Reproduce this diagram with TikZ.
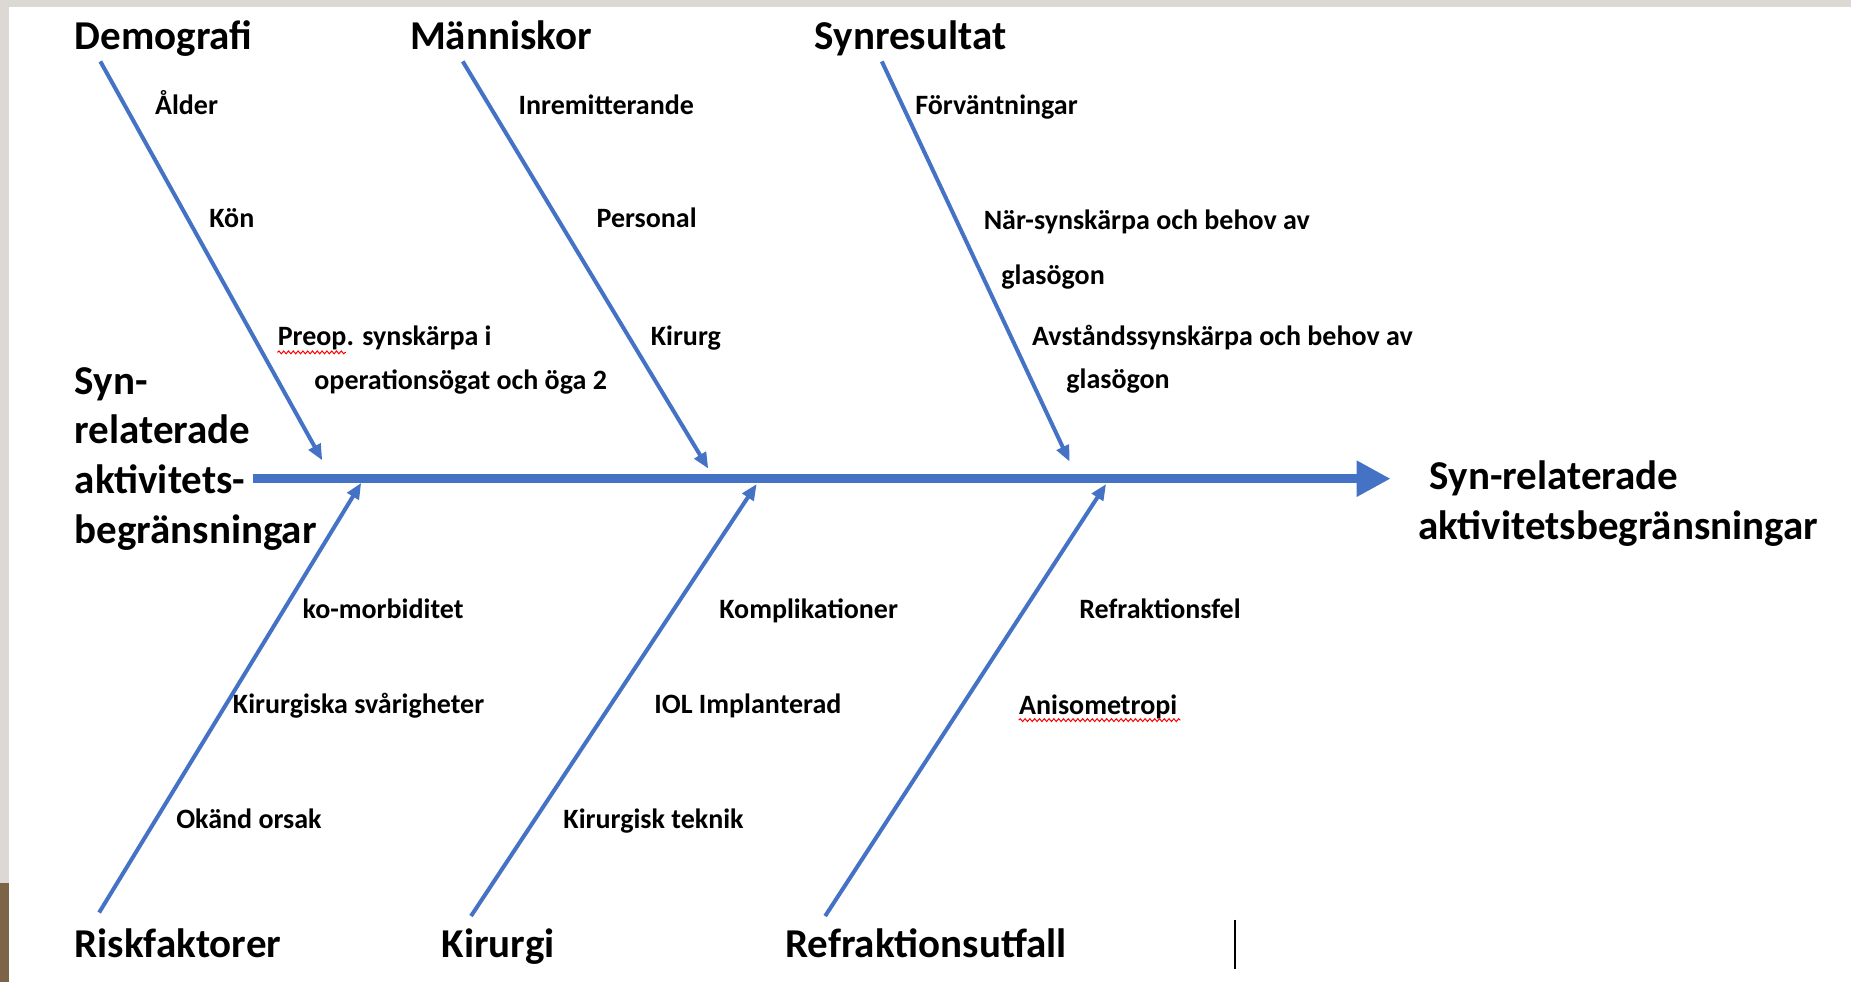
\documentclass[tikz,border=0pt]{standalone}
\usepackage{fontspec}
\setmainfont{Carlito}
\usetikzlibrary{arrows.meta,decorations.pathmorphing}
\definecolor{bone}{HTML}{4472C4}
\definecolor{slidegray}{HTML}{DCD8D3}
\definecolor{wood}{HTML}{7E6446}
\begin{document}
\begin{tikzpicture}[x=0.59024pt,y=-0.59024pt,
  title/.style={font=\fontsize{20.5}{24}\selectfont\bfseries, inner sep=0pt, anchor=base west},
  lab/.style={font=\fontsize{14}{17}\selectfont\bfseries, inner sep=0pt, anchor=base west},
  bonestyle/.style={draw=bone, line width=2pt, -{Triangle[length=8pt,width=6.5pt]}},
  spinestyle/.style={draw=bone, line width=4.6pt, -{Triangle[length=17pt,width=17pt]}},
  squiggle/.style={draw=red, line width=0.5pt, decorate, decoration={snake, amplitude=0.7pt, segment length=2.4pt}}]
% background
\fill[slidegray] (0,0) rectangle (1568,832);
\fill[white] (8,6) rectangle (1568,832);
\fill[wood] (0,748) rectangle (8,832);
\useasboundingbox (0,0) rectangle (1568,832);

% titles
\node[title] (demo) at (63,42) {Demografi};
\node[title] (mann) at (347,42) {Människor};
\node[title] (synr) at (690,42) {Synresultat};
\node[title] (risk) at (63,811) {Riskfaktorer};
\node[title] (kir) at (374,811) {Kirurgi};
\node[title] (refr) at (665,811) {Refraktionsutfall};

% left effect text
\node[title] (lhsA) at (63,334) {Syn-};
\node[title] (lhsB) at (63,376) {relaterade};
\node[title] (lhsC) at (63,418) {aktivitets-};
\node[title] (lhsD) at (63,460) {begränsningar};

% right effect text
\node[title] (rhsA) at (1211,415) {Syn-relaterade};
\node[title] (rhsB) at (1201,457) {aktivitetsbegränsningar};

% spine
\coordinate (spS) at (214,405.5);
\coordinate (spE) at (1178,405.5);
\draw[spinestyle] (spS) -- (spE);

% bones
\coordinate (b1s) at (85,52);   \coordinate (b1e) at (273,390);
\coordinate (b2s) at (392,52);  \coordinate (b2e) at (600,397);
\coordinate (b3s) at (747,52);  \coordinate (b3e) at (906,391);
\coordinate (b4s) at (84,773);  \coordinate (b4e) at (306,409);
\coordinate (b5s) at (399,776); \coordinate (b5e) at (641,410);
\coordinate (b6s) at (699,776); \coordinate (b6e) at (937,410);
\draw[bonestyle] (b1s) -- (b1e);
\draw[bonestyle] (b2s) -- (b2e);
\draw[bonestyle] (b3s) -- (b3e);
\draw[bonestyle] (b4s) -- (b4e);
\draw[bonestyle] (b5s) -- (b5e);
\draw[bonestyle] (b6s) -- (b6e);

% labels
\node[lab] (alder) at (131,97) {Ålder};
\node[lab] (kon) at (177,193) {Kön};
\node[lab] (preop) at (235,293) {Preop. synskärpa i};
\node[lab] (opog) at (266,330) {operationsögat och öga 2};
\node[lab] (inrem) at (439,97) {Inremitterande};
\node[lab] (pers) at (505,193) {Personal};
\node[lab] (kirurg) at (551,293) {Kirurg};
\node[lab] (forv) at (775,97) {Förväntningar};
\node[lab] (nar) at (833,194) {När-synskärpa och behov av};
\node[lab] (glasA) at (848,241) {glasögon};
\node[lab] (avst) at (874,293) {Avståndssynskärpa och behov av};
\node[lab] (glasB) at (903,329) {glasögon};
\node[lab] (komorb) at (256,524) {ko-morbiditet};
\node[lab] (kompl) at (609,524) {Komplikationer};
\node[lab] (refel) at (914,524) {Refraktionsfel};
\node[lab] (svar) at (197,604) {Kirurgiska svårigheter};
\node[lab] (iol) at (554,604) {IOL Implanterad};
\node[lab] (aniso) at (863,605) {Anisometropi};
\node[lab] (okand) at (149,702) {Okänd orsak};
\node[lab] (teknik) at (477,702) {Kirurgisk teknik};

% spell-check squiggles
\draw[squiggle] (235,298.5) -- (293,298.5);
\draw[squiggle] (863,610) -- (1000,610);

% cursor line
\draw[black, line width=0.8pt] (1046,779) -- (1046,821);
\end{tikzpicture}
\end{document}
